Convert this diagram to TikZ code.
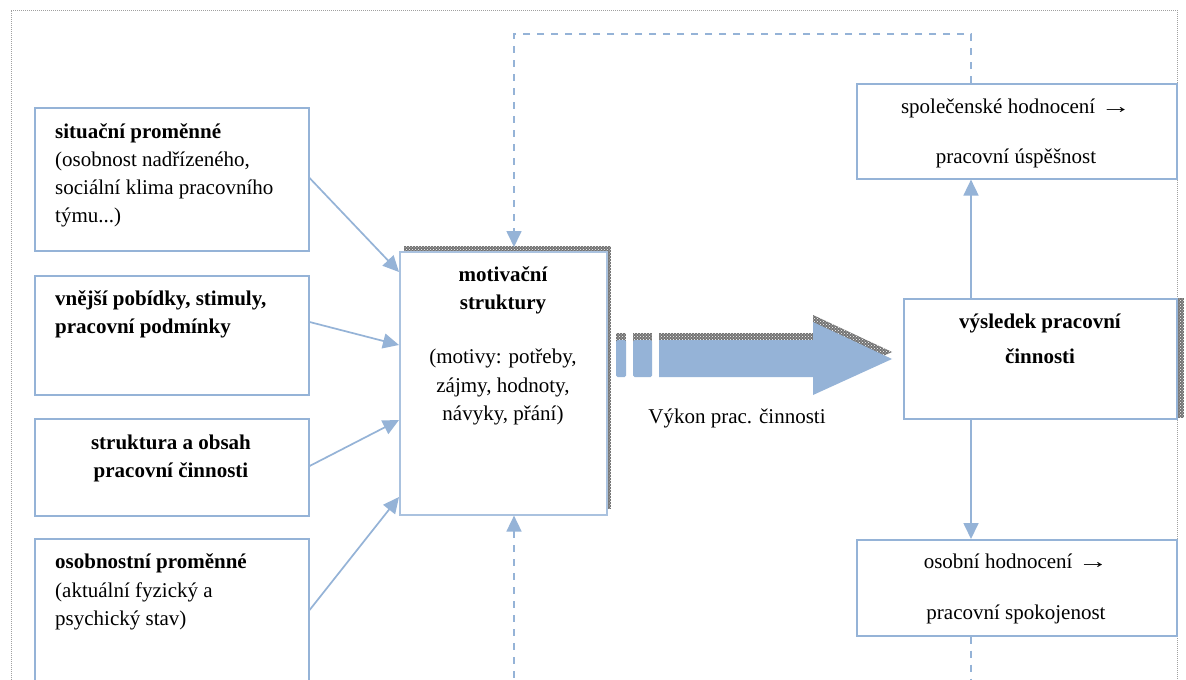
\documentclass[tikz,border=0pt]{standalone}
\usepackage{fontspec}
\usepackage{graphicx}
\setmainfont{Liberation Serif}
\usetikzlibrary{arrows.meta,calc,patterns}
\definecolor{boxblue}{HTML}{95B3D7}
\definecolor{framegray}{HTML}{A0A0A0}
\newcommand{\longto}{\scalebox{1.45}[1]{→}}
\tikzset{
  box/.style={draw=boxblue, line width=1.6pt, fill=white, inner sep=0pt, anchor=north west},
  lbl/.style={inner sep=0pt, font=\fontsize{21}{28}\selectfont},
  lblb/.style={lbl, font=\fontsize{21}{28}\selectfont\bfseries},
  conn/.style={draw=boxblue, line width=1.7pt, -{Triangle[length=16pt,width=15pt]}},
  fb/.style={conn, dash pattern=on 7pt off 7pt},
  shade/.style={fill=black!55, postaction={pattern=crosshatch dots, pattern color=white}},
}
\begin{document}
\begin{tikzpicture}[x=1pt,y=-1pt]
\clip (0,0) rectangle (1186,680);
\fill[white] (0,0) rectangle (1186,680);
% outer dotted frame
\draw[framegray, line width=1pt, dash pattern=on 1pt off 1pt] (11,720) -- (11,10) -- (1177,10) -- (1177,720);

% shadows behind the central and result boxes
\fill[shade] (404,246) rectangle (611,509);
\fill[shade] (911,298) rectangle (1184,418);

% left column of influences
\node[box, minimum width=274pt, minimum height=143pt] (b1) at (34,107) {};
\node[box, minimum width=274pt, minimum height=119pt] (b2) at (34,275) {};
\node[box, minimum width=274pt, minimum height=97pt]  (b3) at (34,418) {};
\node[box, minimum width=274pt, minimum height=170pt] (b4) at (34,538) {};

% central box
\node[box, draw=boxblue!80, minimum width=207pt, minimum height=263pt] (mot) at (399,251) {};

% right column
\node[box, minimum width=320pt, minimum height=95pt]  (soc) at (856,83) {};
\node[box, minimum width=273pt, minimum height=120pt] (vys) at (903,298) {};
\node[box, minimum width=320pt, minimum height=96pt]  (osb) at (856,539) {};

% texts of the left boxes
\node[lblb, anchor=base west] (b1a) at (55,138) {situační proměnné};
\node[lbl,  anchor=base west] (b1b) at (55,166) {(osobnost nadřízeného,};
\node[lbl,  anchor=base west] (b1c) at (55,194) {sociální klima pracovního};
\node[lbl,  anchor=base west] (b1d) at (55,222) {týmu...)};

\node[lblb, anchor=base west] (b2a) at (55,305) {vnější pobídky, stimuly,};
\node[lblb, anchor=base west] (b2b) at (55,333) {pracovní podmínky};

\node[lblb, anchor=base] (b3a) at (171,449) {struktura a obsah};
\node[lblb, anchor=base] (b3b) at (171,477) {pracovní činnosti};

\node[lblb, anchor=base west] (b4a) at (55,568) {osobnostní proměnné};
\node[lbl,  anchor=base west] (b4b) at (55,597) {(aktuální fyzický a};
\node[lbl,  anchor=base west] (b4c) at (55,625) {psychický stav)};

% texts of the central box
\node[lblb, anchor=base] (ma) at (503,281) {motivační};
\node[lblb, anchor=base] (mb) at (503,309) {struktury};
\node[lbl,  anchor=base] (mc) at (503,363) {(motivy: potřeby,};
\node[lbl,  anchor=base] (md) at (503,392) {zájmy, hodnoty,};
\node[lbl,  anchor=base] (me) at (503,420) {návyky, přání)};

% texts of the right boxes
\node[lbl,  anchor=base] (sa) at (1016,113) {společenské hodnocení \longto};
\node[lbl,  anchor=base] (sb) at (1016,163) {pracovní úspěšnost};
\node[lblb, anchor=base] (va) at (1040,328) {výsledek pracovní};
\node[lblb, anchor=base] (vb) at (1040,363) {činnosti};
\node[lbl,  anchor=base] (oa) at (1016,568) {osobní hodnocení \longto};
\node[lbl,  anchor=base] (ob) at (1016,619) {pracovní spokojenost};

% influences into the motivation structures
\draw[conn] ($(b1.north east)+(0,71)$) -- ($(mot.north west)+(0,21)$);
\draw[conn] ($(b2.north east)+(0,47)$) -- ($(mot.north west)+(0,94)$);
\draw[conn] ($(b3.north east)+(0,48)$) -- ($(mot.north west)+(0,169)$);
\draw[conn] ($(b4.north east)+(0,72)$) -- ($(mot.north west)+(0,246)$);

% performance arrow (shadow, then body)
\begin{scope}[shift={(0,-7)}]
  \fill[shade] (616,340) rectangle (626,377);
  \fill[shade] (633,340) rectangle (652,377);
  \fill[shade] (659,340) -- (813,340) -- (813,322) -- (892,359) -- (813,395) -- (813,377) -- (659,377) -- cycle;
\end{scope}
\fill[boxblue, rounded corners=1.5pt] (616,340) rectangle (626,377);
\fill[boxblue, rounded corners=1.5pt] (633,340) rectangle (652,377);
\fill[boxblue] (659,340) -- (813,340) -- (813,322) -- (892,359) -- (813,395) -- (813,377) -- (659,377) -- cycle;
\node[lbl, anchor=base] (vk) at (737,423) {Výkon prac. činnosti};

% result to the two evaluations
\draw[conn] ($(vys.north west)+(68,0)$) -- ($(soc.south west)+(115,0)$);
\draw[conn] ($(vys.south west)+(68,0)$) -- ($(osb.north west)+(115,0)$);

% feedback loops
\draw[fb] ($(soc.north west)+(115,0)$) -- ++(0,-49) -| ($(mot.north west)+(115,-4)$);
\draw[fb] ($(osb.south west)+(115,0)$) -- ++(0,100) -| ($(mot.south west)+(115,0)$);
\end{tikzpicture}
\end{document}
